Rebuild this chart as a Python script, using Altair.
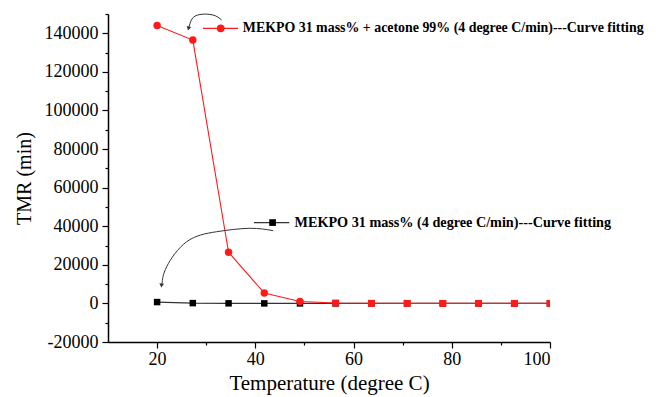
import altair as alt
import pandas as pd

# ---- data ----
temperature = [20, 27.27, 34.55, 41.82, 49.09, 56.36, 63.64, 70.91, 78.18, 85.45, 92.73, 100]
tmr_acetone = [144000, 136500, 26500, 5400, 1000, 200, 50, 20, 10, 5, 2, 1]
tmr_mekpo = [700, 150, 40, 15, 8, 4, 2, 1, 0.5, 0.3, 0.2, 0.1]

x_ticks = [20, 30, 40, 50, 60, 70, 80, 90, 100]
y_ticks = [-20000, -10000, 0, 10000, 20000, 30000, 40000, 50000, 60000, 70000,
           80000, 90000, 100000, 110000, 120000, 130000, 140000, 150000]

label_acetone = "MEKPO 31 mass% + acetone 99% (4 degree C/min)---Curve fitting"
label_mekpo = "MEKPO 31 mass% (4 degree C/min)---Curve fitting"

# ---- annotation placement (data coordinates) ----
lab1_text = (37.45, 142600)
lab1_line = (29.34, 36.47)
lab1_mark = 32.95
lab2_text = (47.98, 41900)
lab2_line = (39.73, 46.92)
lab2_mark = 43.51

arrow1_x = [33.15, 31.38, 28.73, 27.1, 26.39]
arrow1_y = [146890, 149482, 149741, 147409, 142225]
arrow1_head = (26.39, 142500)
arrow2_x = [43.64, 38.86, 32.13, 26.02, 21.95, 21.0]
arrow2_y = [37683, 38927, 37165, 31982, 19024, 10095]
arrow2_head = (20.9, 9300)

RED = "#ff1a1a"
DARK = "#333333"
FONT = "Liberation Serif"

df_red = pd.DataFrame({"x": temperature, "y": tmr_acetone})
df_blk = pd.DataFrame({"x": temperature, "y": tmr_mekpo})

xscale = alt.Scale(domain=[10, 100], nice=False, zero=False)
yscale = alt.Scale(domain=[-20000, 150000], nice=False, zero=False)

xaxis = alt.Axis(
    values=x_ticks, title="Temperature (degree C)", grid=False,
    labelExpr="datum.value % 20 === 0 ? '' + datum.value : ''",
    tickSize={"condition": {"test": "datum.value % 20 === 0", "value": 6}, "value": 3},
    labelPadding=2, titlePadding=4,
    labelFont=FONT, labelFontSize=18, titleFont=FONT, titleFontSize=21,
)
yaxis = alt.Axis(
    values=y_ticks, title="TMR (min)", grid=False,
    labelExpr="datum.value % 20000 === 0 ? '' + datum.value : ''",
    tickSize={"condition": {"test": "datum.value % 20000 === 0", "value": 6}, "value": 3},
    labelPadding=4, titlePadding=10,
    labelFont=FONT, labelFontSize=18, titleFont=FONT, titleFontSize=20,
)

X = alt.X("x:Q", scale=xscale, axis=xaxis)
Y = alt.Y("y:Q", scale=yscale, axis=yaxis)

blk_line = alt.Chart(df_blk).mark_line(color=DARK, strokeWidth=1.2, clip=True).encode(x=X, y=Y)
blk_pts = alt.Chart(df_blk).mark_point(shape="square", filled=True, color="black", size=42, opacity=1, clip=True).encode(x=X, y=Y)
red_line = alt.Chart(df_red).mark_line(color=RED, strokeWidth=1.1, clip=True).encode(x=X, y=Y)
red_circ = alt.Chart(df_red).transform_filter("datum.x < 50").mark_point(
    shape="circle", filled=True, color=RED, size=55, opacity=1, clip=True).encode(x=X, y=Y)
red_sq = alt.Chart(df_red).transform_filter("datum.x > 50").mark_point(
    shape="square", filled=True, color=RED, size=48, opacity=1, clip=True).encode(x=X, y=Y)

# legend-like labels
l1_line = alt.Chart(pd.DataFrame({"x": list(lab1_line), "y": [lab1_text[1]] * 2})).mark_line(
    color=RED, strokeWidth=1.2).encode(x=X, y=Y)
l1_pt = alt.Chart(pd.DataFrame({"x": [lab1_mark], "y": [lab1_text[1]]})).mark_point(
    shape="circle", filled=True, color=RED, size=60, opacity=1).encode(x=X, y=Y)
l1_txt = alt.Chart(pd.DataFrame({"x": [lab1_text[0]], "y": [lab1_text[1]], "t": [label_acetone]})).mark_text(
    align="left", baseline="middle", font=FONT, fontWeight="bold", fontSize=13.9, color="black").encode(
    x=X, y=Y, text="t:N")

l2_line = alt.Chart(pd.DataFrame({"x": list(lab2_line), "y": [lab2_text[1]] * 2})).mark_line(
    color=DARK, strokeWidth=1.2).encode(x=X, y=Y)
l2_pt = alt.Chart(pd.DataFrame({"x": [lab2_mark], "y": [lab2_text[1]]})).mark_point(
    shape="square", filled=True, color="black", size=45, opacity=1).encode(x=X, y=Y)
l2_txt = alt.Chart(pd.DataFrame({"x": [lab2_text[0]], "y": [lab2_text[1]], "t": [label_mekpo]})).mark_text(
    align="left", baseline="middle", font=FONT, fontWeight="bold", fontSize=14.2, color="black").encode(
    x=X, y=Y, text="t:N")

# curved arrows
a1 = alt.Chart(pd.DataFrame({"x": arrow1_x, "y": arrow1_y, "o": list(range(len(arrow1_x)))})).mark_line(
    color=DARK, strokeWidth=1, interpolate="natural").encode(x=X, y=Y, order="o:Q")
a1h = alt.Chart(pd.DataFrame({"x": [arrow1_head[0]], "y": [arrow1_head[1]]})).mark_point(
    shape="triangle-down", filled=True, color=DARK, size=22, opacity=1, angle=15).encode(x=X, y=Y)
a2 = alt.Chart(pd.DataFrame({"x": arrow2_x, "y": arrow2_y, "o": list(range(len(arrow2_x)))})).mark_line(
    color=DARK, strokeWidth=1, interpolate="natural").encode(x=X, y=Y, order="o:Q")
a2h = alt.Chart(pd.DataFrame({"x": [arrow2_head[0]], "y": [arrow2_head[1]]})).mark_point(
    shape="triangle-down", filled=True, color=DARK, size=22, opacity=1, angle=5).encode(x=X, y=Y)

chart = alt.layer(
    blk_line, blk_pts, red_line, red_circ, red_sq,
    l1_line, l1_pt, l1_txt, l2_line, l2_pt, l2_txt, a1, a1h, a2, a2h,
).properties(
    width=442, height=328,
    autosize=alt.AutoSizeParams(type="none"),
    padding={"left": 100, "top": 6, "right": 98, "bottom": 55},
).configure_view(stroke=None).configure_axis(
    domainColor="black", domainWidth=1.5, tickColor="black", tickWidth=1.2,
    labelColor="black", titleFontWeight="normal", titleColor="black",
)

chart.save("out.html", embed_options={"renderer": "svg", "actions": False})
